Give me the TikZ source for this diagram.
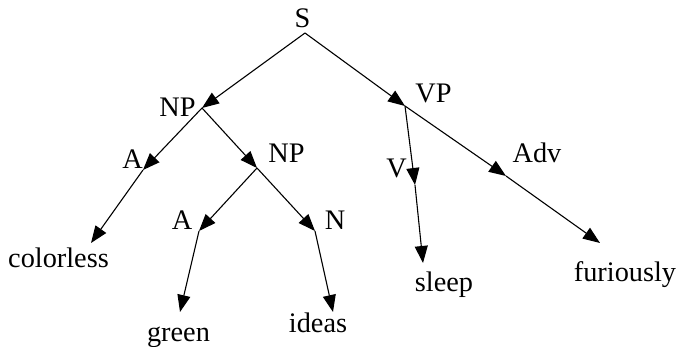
\documentclass[tikz,border=0pt]{standalone}
\usepackage{fontspec}
\setmainfont{Liberation Serif}
\usetikzlibrary{arrows.meta}
\begin{document}
\begin{tikzpicture}[x=1pt,y=-1pt,
  lbl/.style={anchor=base,inner sep=0pt,font=\fontsize{28.3}{30}\selectfont},
  edge/.style={line width=1.1pt,-{Triangle[length=17pt,width=13pt]}}]
\useasboundingbox (0,0) rectangle (681,347);
% labels
\node[lbl] (S) at (302.5,28) {S};
\node[lbl] (NP) at (177.5,117) {NP};
\node[lbl] (VP) at (433.5,103) {VP};
\node[lbl] (A1) at (132.5,169) {A};
\node[lbl] (NP2) at (286.5,163) {NP};
\node[lbl] (A2) at (182,230) {A};
\node[lbl] (N) at (335,230) {N};
\node[lbl] (V) at (396.5,178) {V};
\node[lbl] (Adv) at (537,163) {Adv};
\node[lbl] (colorless) at (58.5,268) {colorless};
\node[lbl] (green) at (178.5,342) {green};
\node[lbl] (ideas) at (318,333) {ideas};
\node[lbl] (sleep) at (444,292) {sleep};
\node[lbl] (furiously) at (625,282) {furiously};
% junction points
\coordinate (pS) at (305,33);
\coordinate (pNP) at (202,108);
\coordinate (pVP) at (405,106);
\coordinate (pA1) at (143,170);
\coordinate (pNP2) at (257,168);
\coordinate (pA2) at (199,231);
\coordinate (pN) at (315,231);
\coordinate (pV) at (415,185);
\coordinate (pAdv) at (506,176);
\coordinate (tcol) at (91,243);
\coordinate (tgreen) at (180,312);
\coordinate (tideas) at (333,312);
\coordinate (tsleep) at (423,263);
\coordinate (tfur) at (600,243);
% connectors
\draw[edge] (pS) -- (pNP);
\draw[edge] (pS) -- (pVP);
\draw[edge] (pNP) -- (pA1);
\draw[edge] (pNP) -- (pNP2);
\draw[edge] (pA1) -- (tcol);
\draw[edge] (pNP2) -- (pA2);
\draw[edge] (pNP2) -- (pN);
\draw[edge] (pA2) -- (tgreen);
\draw[edge] (pN) -- (tideas);
\draw[edge] (pVP) -- (pV);
\draw[edge] (pVP) -- (pAdv);
\draw[edge] (pV) -- (tsleep);
\draw[edge] (pAdv) -- (tfur);
\end{tikzpicture}
\end{document}
